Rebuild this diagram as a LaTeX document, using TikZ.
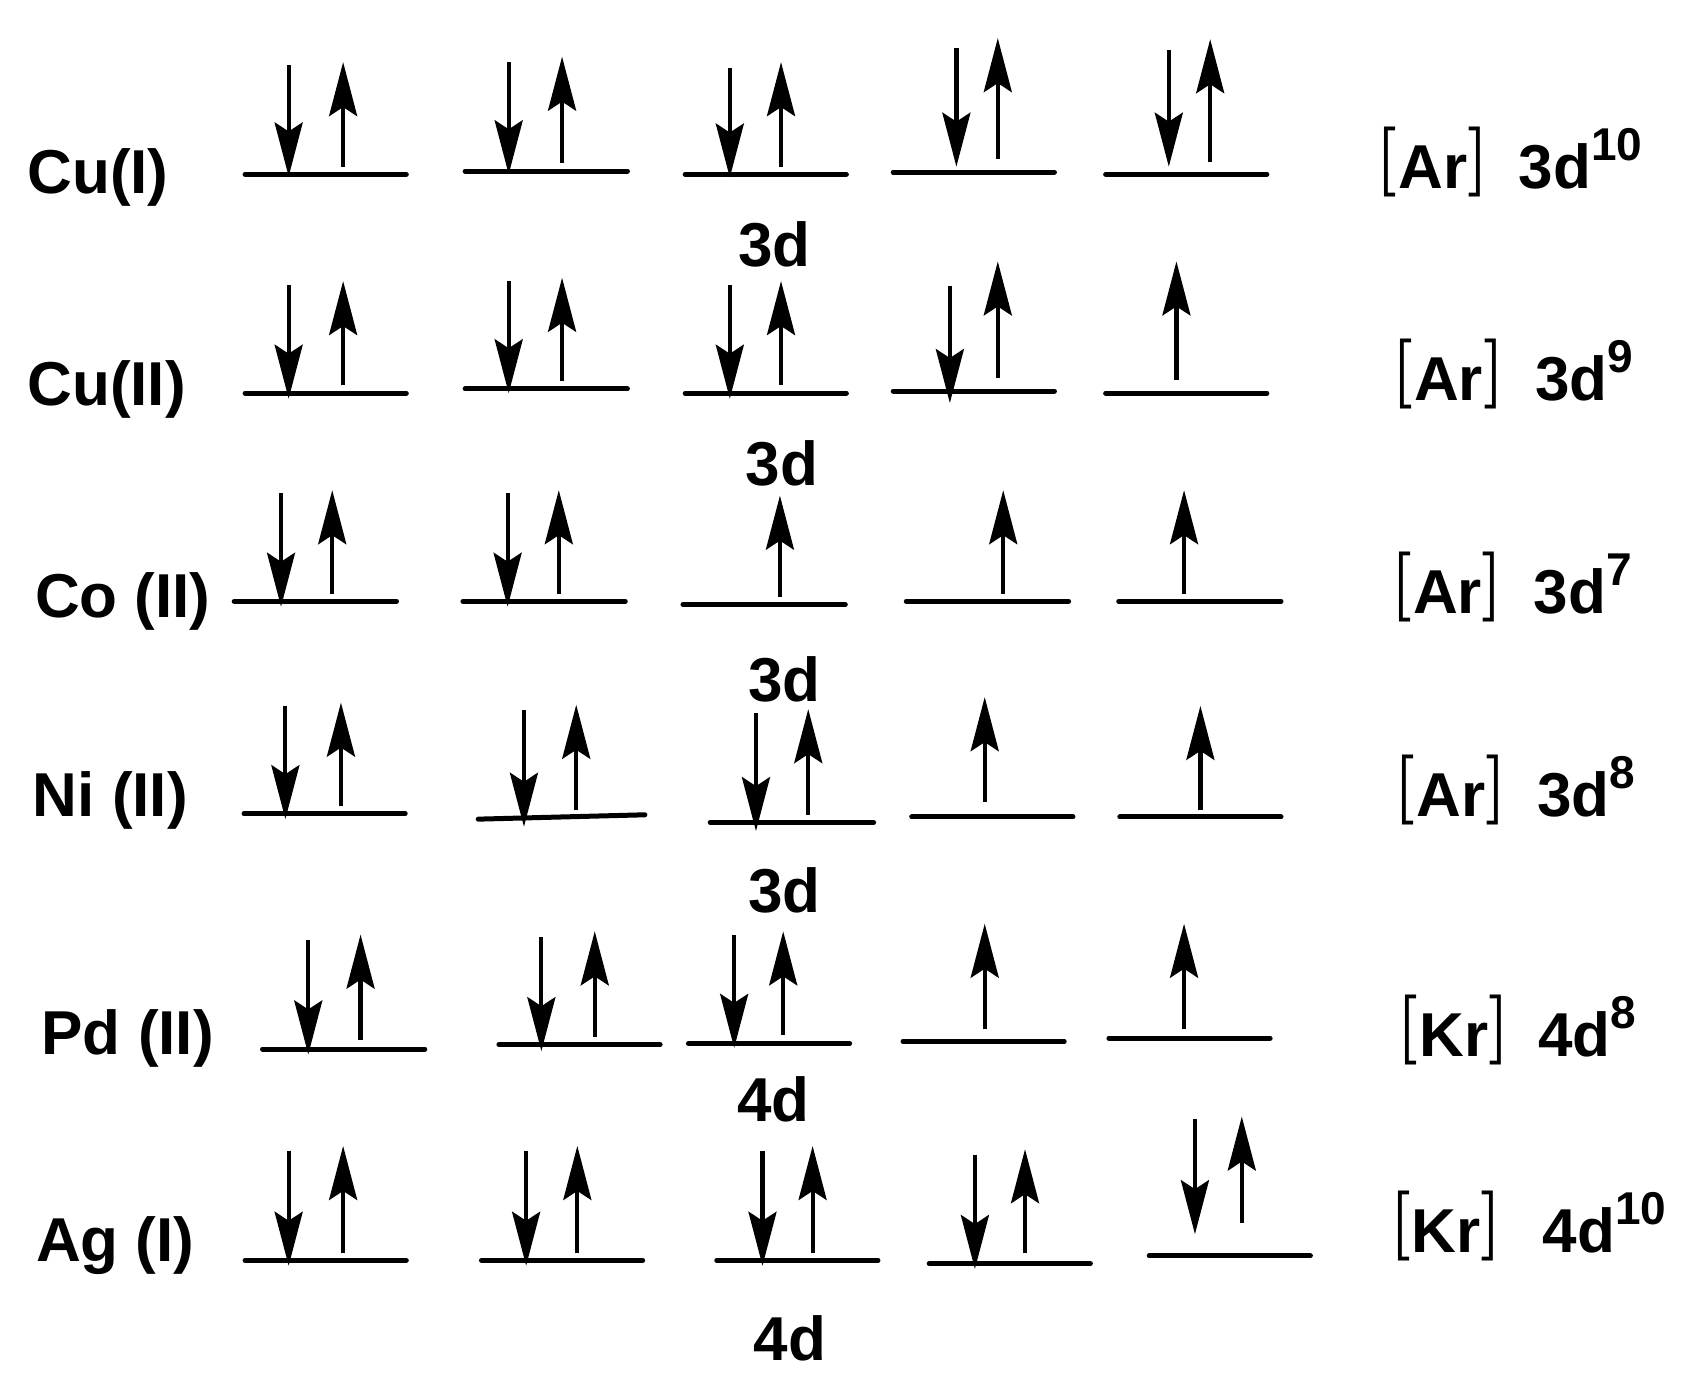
\documentclass[tikz,border=0pt]{standalone}
\usepackage{fontspec}
\setmainfont{Liberation Sans}
\newfontfamily\brkfont{Latin Modern Roman}
\usetikzlibrary{arrows.meta}
\newcommand\orb[4]{\draw[lvl] (#1,#2) -- (#3,#4);}
\newcommand\spn[3]{\draw[spin] (#1,#2) -- (#1,#3);}
\newcommand\brk[1]{{\brkfont\fontsize{70pt}{70pt}\selectfont\raisebox{9pt}{#1}}}
\newcommand\cfgtxt[1]{\brk{[}\kern1pt#1\kern0pt\brk{]}}
\newcommand\sups[1]{\raisebox{28pt}{\fontsize{46pt}{46pt}\selectfont #1}}
\begin{document}
\begin{tikzpicture}[x=1.0893pt,y=-1.0893pt,
  lvl/.style={line width=5pt,line cap=round},
  spin/.style={line width=4.2pt,-{Stealth[length=54pt,width=28pt,inset=9pt]}},
  txt/.style={inner sep=0pt,font=\bfseries\fontsize{62pt}{62pt}\selectfont},
  lbl/.style={txt,anchor=base west},
  sub/.style={txt,anchor=base}]
\useasboundingbox[fill=white] (0,0) rectangle (1568,1278);
% ---------- Row 1 Cu(I)
\node[lbl] (r1) at (25,178) {Cu(I)};
\orb{225}{160}{373}{160}\spn{265}{60}{162}\spn{315}{153}{57}
\orb{427}{157}{576}{157}\spn{467}{57}{160}\spn{516}{150}{52}
\orb{629}{160}{777}{160}\spn{670}{62}{163}\spn{717}{153}{57}
\orb{820}{158}{968}{158}\spn{878}{44}{153}\spn{916}{146}{35}
\orb{1015}{160}{1163}{160}\spn{1073}{46}{153}\spn{1111}{149}{36}
\node[sub] (s1) at (711,245) {3d};
\node[lbl] (c1a) at (1263,173) {\cfgtxt{Ar}};
\node[lbl] (c1b) at (1394,173) {3d\sups{10}};
% ---------- Row 2 Cu(II)
\node[lbl] (r2) at (25,372) {Cu(II)};
\orb{225}{361}{373}{361}\spn{265}{262}{366}\spn{315}{353}{258}
\orb{427}{357}{576}{357}\spn{467}{258}{361}\spn{516}{350}{255}
\orb{629}{361}{777}{361}\spn{670}{262}{366}\spn{717}{353}{258}
\orb{820}{359}{968}{359}\spn{872}{263}{370}\spn{916}{347}{240}
\orb{1015}{361}{1163}{361}\spn{1080}{349}{240}
\node[sub] (s2) at (718,446) {3d};
\node[lbl] (c2a) at (1277,368) {\cfgtxt{Ar}};
\node[lbl] (c2b) at (1409,368) {3d\sups{9}};
% ---------- Row 3 Co(II)
\node[lbl] (r3) at (32,567) {Co (II)};
\orb{215}{552}{364}{552}\spn{258}{453}{557}\spn{305}{545}{450}
\orb{425}{552}{574}{552}\spn{466}{453}{557}\spn{513}{545}{450}
\orb{627}{555}{776}{555}\spn{716}{548}{455}
\orb{832}{552}{981}{552}\spn{921}{545}{450}
\orb{1027}{552}{1176}{552}\spn{1087}{545}{450}
\node[sub] (s3) at (720,644) {3d};
\node[lbl] (c3a) at (1276,563) {\cfgtxt{Ar}};
\node[lbl] (c3b) at (1408,563) {3d\sups{7}};
% ---------- Row 4 Ni(II)
\node[lbl] (r4) at (30,750) {Ni (II)};
\orb{224}{747}{372}{747}\spn{262}{648}{752}\spn{313}{740}{645}
\orb{439}{752}{592}{748}\spn{481}{652}{759}\spn{529}{744}{647}
\orb{652}{755}{802}{755}\spn{694}{655}{763}\spn{742}{748}{651}
\orb{837}{750}{985}{750}\spn{904}{736}{640}
\orb{1028}{750}{1176}{750}\spn{1102}{744}{648}
\node[sub] (s4) at (720,838) {3d};
\node[lbl] (c4a) at (1279,750) {\cfgtxt{Ar}};
\node[lbl] (c4b) at (1411,750) {3d\sups{8}};
% ---------- Row 5 Pd(II)
\node[lbl] (r5) at (38,968) {Pd (II)};
\orb{241}{963}{390}{963}\spn{283}{863}{968}\spn{331}{955}{858}
\orb{458}{959}{606}{959}\spn{497}{860}{965}\spn{546}{952}{855}
\orb{632}{958}{780}{958}\spn{674}{858}{962}\spn{719}{950}{855}
\orb{829}{956}{977}{956}\spn{904}{945}{848}
\orb{1018}{953}{1166}{953}\spn{1087}{945}{848}
\node[sub] (s5) at (710,1030) {4d};
\node[lbl] (c5a) at (1282,970) {\cfgtxt{Kr}};
\node[lbl] (c5b) at (1412,970) {4d\sups{8}};
% ---------- Row 6 Ag(I)
\node[lbl] (r6) at (33,1158) {Ag (I)};
\orb{225}{1157}{373}{1157}\spn{265}{1057}{1162}\spn{315}{1150}{1052}
\orb{442}{1157}{590}{1157}\spn{483}{1057}{1162}\spn{530}{1150}{1052}
\orb{658}{1157}{806}{1157}\spn{700}{1057}{1162}\spn{746}{1150}{1052}
\orb{853}{1160}{1001}{1160}\spn{895}{1060}{1165}\spn{941}{1150}{1055}
\orb{1055}{1153}{1203}{1153}\spn{1097}{1027}{1133}\spn{1140}{1123}{1025}
\node[sub] (s6) at (725,1249) {4d};
\node[lbl] (c6a) at (1275,1150) {\cfgtxt{Kr}};
\node[lbl] (c6b) at (1416,1150) {4d\sups{10}};
\end{tikzpicture}
\end{document}
